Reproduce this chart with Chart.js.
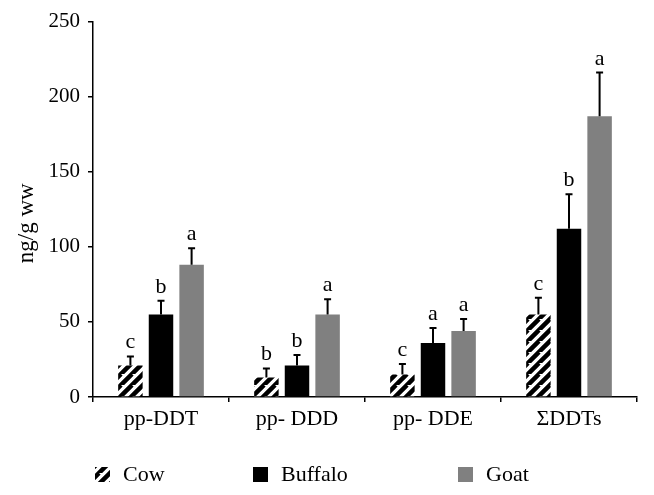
<!DOCTYPE html>
<html>
<head>
<meta charset="utf-8">
<script src="https://cdn.jsdelivr.net/npm/chart.js@4"></script>
<style>
  html, body { margin: 0; padding: 0; background: #fff; }
  #wrap { width: 654px; height: 495px; }
</style>
</head>
<body>
<div id="wrap"><canvas id="chart" width="654" height="495"></canvas></div>
<script>
const categories = ['pp-DDT', 'pp- DDD', 'pp- DDE', 'ΣDDTs'];
const seriesNames = ['Cow', 'Buffalo', 'Goat'];
const cowValues = [21, 13, 15, 55];
const buffaloValues = [55, 21, 36, 112];
const goatValues = [88, 55, 44, 187];
const cowErrors = [6, 6, 7, 11];
const buffaloErrors = [9, 7, 10, 23];
const goatErrors = [11, 10, 8, 29];
const cowLetters = ['c', 'b', 'c', 'c'];
const buffaloLetters = ['b', 'b', 'a', 'b'];
const goatLetters = ['a', 'a', 'a', 'a'];
const yTicks = [0, 50, 100, 150, 200, 250];
const yTitle = 'ng/g ww';

const FONT = '"Liberation Serif", "DejaVu Serif", serif';

function makeHatch() {
    const c = document.createElement('canvas');
    c.width = 11; c.height = 11;
    const g = c.getContext('2d');
    g.fillStyle = '#fff';
    g.fillRect(0, 0, 11, 11);
    g.strokeStyle = '#000';
    g.lineWidth = 4.5;
    g.beginPath();
    for (let k = -11; k <= 22; k += 11) {
        g.moveTo(k - 11, 22);
        g.lineTo(k + 11, 0);
    }
    g.stroke();
    return g.createPattern(c, 'repeat');
}
const hatch = makeHatch();

const errorsBySet = [cowErrors, buffaloErrors, goatErrors];
const lettersBySet = [cowLetters, buffaloLetters, goatLetters];

// error bars (upper only) and significance letters
const errorBarPlugin = {
    id: 'errorBars',
    afterDatasetsDraw(chart) {
        const ctx = chart.ctx;
        const y = chart.scales.y;
        ctx.save();
        chart.data.datasets.forEach((ds, i) => {
            const meta = chart.getDatasetMeta(i);
            meta.data.forEach((bar, j) => {
                const top = y.getPixelForValue(ds.data[j] + errorsBySet[i][j]);
                ctx.strokeStyle = '#000';
                ctx.lineWidth = 2;
                ctx.beginPath();
                ctx.moveTo(bar.x, bar.y);
                ctx.lineTo(bar.x, top);
                ctx.moveTo(bar.x - 3.5, top);
                ctx.lineTo(bar.x + 3.5, top);
                ctx.stroke();
                ctx.fillStyle = '#000';
                ctx.font = '22px ' + FONT;
                ctx.textAlign = 'center';
                ctx.textBaseline = 'alphabetic';
                ctx.fillText(lettersBySet[i][j], bar.x, top - 8);
            });
        });
        ctx.restore();
    }
};

// y title + legend row drawn by hand (uneven spacing in the original)
const legendItems = [
    { x: 95, fill: hatch },
    { x: 253, fill: '#000' },
    { x: 458, fill: '#808080' }
];
const extrasPlugin = {
    id: 'extras',
    afterDraw(chart) {
        const ctx = chart.ctx;
        const area = chart.chartArea;
        ctx.save();
        ctx.fillStyle = '#000';
        ctx.font = '23px ' + FONT;
        ctx.textAlign = 'center';
        ctx.textBaseline = 'middle';
        ctx.translate(27, (area.top + area.bottom) / 2 + 14);
        ctx.rotate(-Math.PI / 2);
        ctx.fillText(yTitle, 0, 0);
        ctx.restore();

        ctx.save();
        ctx.font = '22px ' + FONT;
        ctx.textBaseline = 'middle';
        ctx.textAlign = 'left';
        legendItems.forEach((item, i) => {
            ctx.fillStyle = item.fill;
            ctx.fillRect(item.x, 467, 15, 15);
            ctx.fillStyle = '#000';
            ctx.fillText(seriesNames[i], item.x + 28, 475);
        });
        ctx.restore();
    }
};

new Chart(document.getElementById('chart'), {
    type: 'bar',
    data: {
        labels: categories,
        datasets: [
            { label: seriesNames[0], data: cowValues, backgroundColor: hatch },
            { label: seriesNames[1], data: buffaloValues, backgroundColor: '#000' },
            { label: seriesNames[2], data: goatValues, backgroundColor: '#808080' }
        ]
    },
    options: {
        responsive: false,
        animation: false,
        devicePixelRatio: 1,
        datasets: { bar: { barPercentage: 0.8, categoryPercentage: 0.675 } },
        layout: { padding: { top: 21.5, right: 17, left: 0, bottom: 0 } },
        plugins: { legend: { display: false }, tooltip: { enabled: false } },
        scales: {
            x: {
                grid: { display: true, offset: true, drawOnChartArea: false, drawTicks: true, tickLength: 5, color: '#000', lineWidth: 1.5 },
                border: { display: true, color: '#000', width: 1.5 },
                ticks: { color: '#000', font: { family: FONT, size: 22 }, padding: 4, maxRotation: 0 },
                afterFit(s) { s.height = 98; }
            },
            y: {
                min: 0, max: 250,
                afterBuildTicks(s) { s.ticks = yTicks.map(v => ({ value: v })); },
                grid: { display: true, drawOnChartArea: false, drawTicks: true, tickLength: 5, color: '#000', lineWidth: 1.5 },
                border: { display: true, color: '#000', width: 1.5 },
                ticks: { color: '#000', font: { family: FONT, size: 21 }, padding: 8 },
                afterFit(s) { s.width = 93; }
            }
        }
    },
    plugins: [errorBarPlugin, extrasPlugin]
});
</script>
</body>
</html>
